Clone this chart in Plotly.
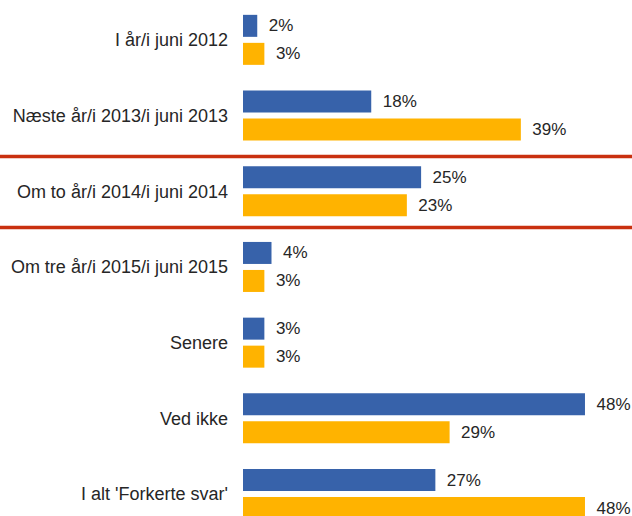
import plotly.graph_objects as go

categories = ["I år/i juni 2012", "Næste år/i 2013/i juni 2013", "Om to år/i 2014/i juni 2014",
              "Om tre år/i 2015/i juni 2015", "Senere", "Ved ikke", "I alt 'Forkerte svar'"]
blue_vals = [2, 18, 25, 4, 3, 48, 27]
orange_vals = [3, 39, 23, 3, 3, 29, 48]
highlight_bounds = [1.54, 2.48]

FONT = "Liberation Sans, Arial, sans-serif"
TXT = "#262626"

fig = go.Figure()
for vals, col in [(blue_vals, "#3762AA"), (orange_vals, "#FFB300")]:
    fig.add_trace(go.Bar(
        y=categories, x=vals, orientation="h",
        marker=dict(color=col, line=dict(width=0)),
        text=[f"\u2002{v}%" for v in vals], textposition="outside",
        textfont=dict(family=FONT, size=17, color=TXT),
        cliponaxis=False, constraintext="none", hoverinfo="skip",
    ))

for yb in highlight_bounds:
    fig.add_shape(type="line", xref="paper", yref="y", x0=-0.65, x1=1.02, y0=yb, y1=yb,
                  line=dict(color="#C9300F", width=3.5))

fig.update_layout(
    width=632, height=516, margin=dict(l=243, r=0, t=2, b=0),
    barmode="group", bargap=0.26, bargroupgap=0.214,
    plot_bgcolor="white", paper_bgcolor="white", showlegend=False,
    font=dict(family=FONT, size=18, color=TXT),
    xaxis=dict(range=[0, 54.6], visible=False, showgrid=False, zeroline=False),
    yaxis=dict(categoryorder="array", categoryarray=categories, range=[6.29, -0.5],
               showgrid=False, zeroline=False, showline=False, ticks="", automargin=False,
               ticklabelstandoff=14, tickfont=dict(family=FONT, size=18, color=TXT)),
)
fig.write_html(
    "out.html",
    config={"displayModeBar": False},
    post_script="document.documentElement.style.overflow='hidden';"
                "document.body.style.margin='0';document.body.style.overflow='hidden';",
)
